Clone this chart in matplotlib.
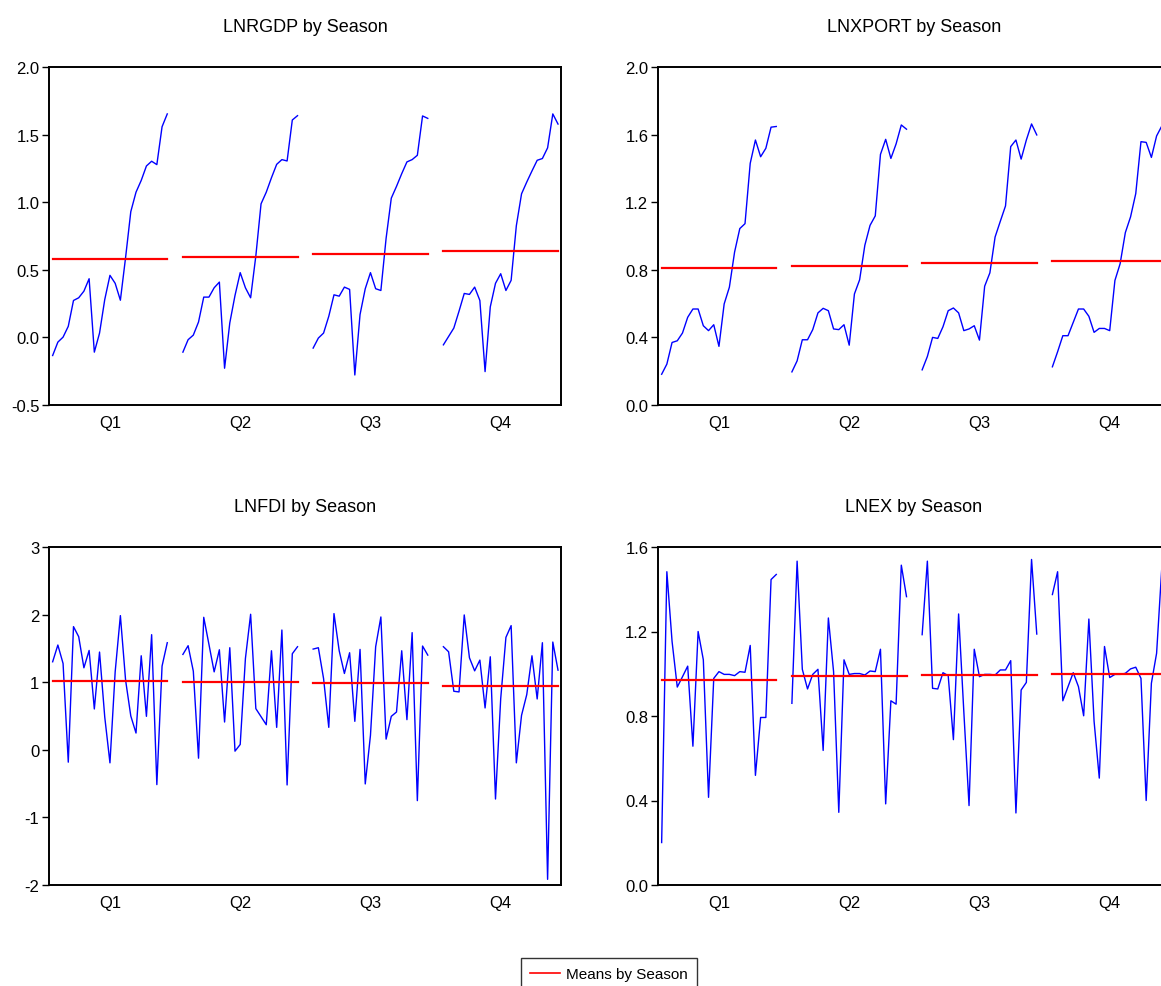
import numpy as np
import matplotlib
matplotlib.use("Agg")
import matplotlib.pyplot as plt
from matplotlib.lines import Line2D
from matplotlib.ticker import FormatStrFormatter

plt.rcParams['font.family'] = ['Liberation Sans', 'DejaVu Sans']
plt.rcParams['axes.unicode_minus'] = False

quarters = ["Q1", "Q2", "Q3", "Q4"]

# one list of yearly values per quarter
lnrgdp = [
    [-0.134, -0.035, 0.002, 0.082, 0.273, 0.293, 0.342, 0.434, -0.109, 0.032, 0.280, 0.459,
     0.400, 0.275, 0.591, 0.930, 1.074, 1.161, 1.268, 1.303, 1.278, 1.558, 1.653],
    [-0.109, -0.017, 0.017, 0.114, 0.298, 0.298, 0.367, 0.409, -0.228, 0.107, 0.310, 0.479,
     0.367, 0.293, 0.603, 0.988, 1.074, 1.181, 1.280, 1.315, 1.305, 1.608, 1.640],
    [-0.079, -0.005, 0.032, 0.156, 0.315, 0.305, 0.372, 0.355, -0.278, 0.169, 0.360, 0.479,
     0.360, 0.347, 0.732, 1.030, 1.117, 1.211, 1.298, 1.315, 1.347, 1.638, 1.620],
    [-0.055, 0.007, 0.069, 0.194, 0.325, 0.318, 0.372, 0.273, -0.253, 0.226, 0.400, 0.471,
     0.347, 0.422, 0.826, 1.062, 1.149, 1.231, 1.310, 1.323, 1.402, 1.653, 1.578],
]

lnxport = [
    [0.182, 0.242, 0.370, 0.380, 0.426, 0.519, 0.568, 0.568, 0.469, 0.440, 0.475, 0.347,
     0.598, 0.697, 0.905, 1.044, 1.073, 1.430, 1.568, 1.469, 1.519, 1.644, 1.648],
    [0.196, 0.261, 0.386, 0.386, 0.446, 0.545, 0.572, 0.558, 0.450, 0.446, 0.475, 0.354,
     0.657, 0.741, 0.945, 1.063, 1.119, 1.483, 1.572, 1.459, 1.545, 1.657, 1.632],
    [0.208, 0.287, 0.400, 0.394, 0.463, 0.558, 0.574, 0.545, 0.440, 0.450, 0.469, 0.384,
     0.703, 0.782, 0.994, 1.087, 1.178, 1.529, 1.568, 1.455, 1.568, 1.663, 1.598],
    [0.226, 0.315, 0.410, 0.410, 0.489, 0.568, 0.568, 0.525, 0.430, 0.453, 0.453, 0.440,
     0.737, 0.836, 1.020, 1.113, 1.251, 1.558, 1.554, 1.465, 1.592, 1.651, 1.560],
]

lnfdi = [
    [1.302, 1.550, 1.277, -0.183, 1.822, 1.673, 1.213, 1.470, 0.604, 1.446, 0.485, -0.193,
     1.153, 1.985, 1.030, 0.500, 0.248, 1.391, 0.495, 1.703, -0.515, 1.238, 1.584],
    [1.411, 1.540, 1.163, -0.124, 1.960, 1.559, 1.153, 1.480, 0.411, 1.510, -0.020, 0.079,
     1.351, 2.005, 0.609, 0.490, 0.371, 1.465, 0.332, 1.772, -0.520, 1.421, 1.525],
    [1.490, 1.510, 1.054, 0.332, 2.015, 1.465, 1.129, 1.436, 0.421, 1.485, -0.505, 0.213,
     1.525, 1.965, 0.158, 0.495, 0.559, 1.465, 0.446, 1.733, -0.752, 1.535, 1.401],
    [1.525, 1.450, 0.866, 0.856, 1.995, 1.361, 1.168, 1.327, 0.619, 1.376, -0.728, 0.757,
     1.663, 1.837, -0.193, 0.510, 0.817, 1.391, 0.752, 1.584, -1.916, 1.594, 1.178],
]

lnex = [
    [0.201, 1.483, 1.153, 0.937, 0.986, 1.036, 0.657, 1.200, 1.066, 0.415, 0.978, 1.010,
     0.997, 0.997, 0.991, 1.010, 1.007, 1.134, 0.519, 0.793, 0.793, 1.446, 1.470],
    [0.860, 1.533, 1.021, 0.928, 0.997, 1.021, 0.637, 1.264, 1.010, 0.344, 1.066, 0.997,
     1.001, 1.001, 0.994, 1.013, 1.010, 1.116, 0.384, 0.872, 0.856, 1.514, 1.365],
    [1.185, 1.533, 0.931, 0.928, 1.005, 0.991, 0.688, 1.283, 0.820, 0.376, 1.116, 0.986,
     0.997, 0.997, 0.994, 1.018, 1.018, 1.062, 0.341, 0.923, 0.959, 1.541, 1.188],
    [1.375, 1.483, 0.872, 0.939, 1.005, 0.939, 0.801, 1.259, 0.775, 0.506, 1.129, 0.982,
     0.997, 0.997, 1.002, 1.023, 1.031, 0.978, 0.400, 0.955, 1.097, 1.502, 0.880],
]

panels = [
    ("LNRGDP by Season", lnrgdp, (-0.5, 2.0), [-0.5, 0.0, 0.5, 1.0, 1.5, 2.0], "%.1f"),
    ("LNXPORT by Season", lnxport, (0.0, 2.0), [0.0, 0.4, 0.8, 1.2, 1.6, 2.0], "%.1f"),
    ("LNFDI by Season", lnfdi, (-2, 3), [-2, -1, 0, 1, 2, 3], "%d"),
    ("LNEX by Season", lnex, (0.0, 1.6), [0.0, 0.4, 0.8, 1.2, 1.6], "%.1f"),
]

W, H = 1161, 987
fig = plt.figure(figsize=(W / 100, H / 100), dpi=100)

# axes boxes in pixels: left, top, right, bottom
boxes = [(49, 68, 561, 406), (658, 68, 1170, 406),
         (49, 548, 561, 886), (658, 548, 1170, 886)]

block = 25
for (title, data, ylim, yticks, fmt), (l, t, r, b) in zip(panels, boxes):
    ax = fig.add_axes([l / W, 1 - b / H, (r - l) / W, (b - t) / H])
    centers = []
    for k, vals in enumerate(data):
        x = k * block + np.arange(len(vals))
        ax.plot(x, vals, color="#0000ff", lw=1.0, zorder=2)
        ax.plot([x[0], x[-1]], [np.mean(vals)] * 2, color="#ff0000", lw=1.6, zorder=3)
        centers.append(x.mean())
    ax.set_xlim(-0.7, -0.7 + (r - l) / 5.21)
    ax.set_ylim(*ylim)
    ax.set_yticks(yticks)
    ax.yaxis.set_major_formatter(FormatStrFormatter(fmt))
    ax.set_xticks(centers)
    ax.set_xticklabels(quarters)
    ax.tick_params(axis="x", length=0, pad=7, labelsize=12)
    ax.tick_params(axis="y", direction="out", length=5, width=1.0, pad=2, labelsize=12)
    for s in ax.spines.values():
        s.set_linewidth(1.4)
    ax.set_title(title, fontsize=13, pad=26)

handle = Line2D([], [], color="#ff0000", lw=1.2)
fig.legend([handle], ["Means by Season"], loc="upper center",
           bbox_to_anchor=(609 / W, 1 - 959 / H), fontsize=11, frameon=True,
           fancybox=False, edgecolor="black", handlelength=2.0, borderpad=0.6,
           handletextpad=0.4, borderaxespad=0)

fig.savefig("out.png", dpi=100)
